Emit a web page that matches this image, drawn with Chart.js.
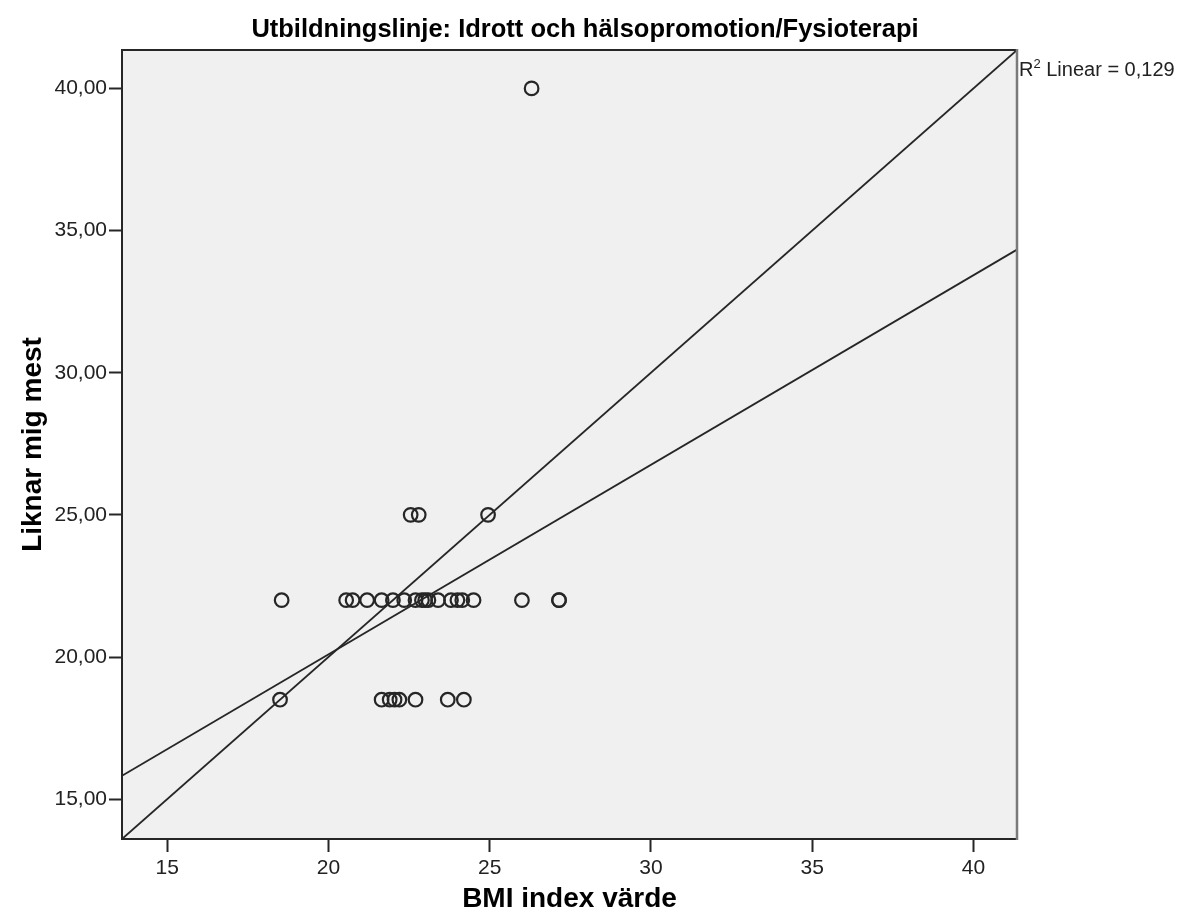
<!DOCTYPE html>
<html>
<head>
<meta charset="utf-8">
<script src="https://cdn.jsdelivr.net/npm/chart.js@4.4.1/dist/chart.umd.min.js"></script>
<style>
  html, body { margin: 0; padding: 0; background: #fff; }
</style>
</head>
<body>
<canvas id="scatterChart" width="1184" height="922"></canvas>
<script>
const chartTitle = "Utbildningslinje: Idrott och hälsopromotion/Fysioterapi";
const xAxisTitle = "BMI index värde";
const yAxisTitle = "Liknar mig mest";

// one entry per respondent: BMI and score
const bmiValues = [
  26.3,
  22.55, 22.8, 24.95,
  18.55, 20.55, 20.75, 21.2, 21.65, 22.0, 22.35, 22.7, 22.9, 23.0,
  23.1, 23.4, 23.8, 24.0, 24.15, 24.5, 26.0, 27.15, 27.15,
  18.5, 21.65, 21.9, 22.05, 22.2, 22.7, 23.7, 24.2,
];
const scoreValues = [
  40,
  25, 25, 25,
  22, 22, 22, 22, 22, 22, 22, 22, 22, 22,
  22, 22, 22, 22, 22, 22, 22, 22, 22,
  18.5, 18.5, 18.5, 18.5, 18.5, 18.5, 18.5, 18.5,
];

const xTicks = [15, 20, 25, 30, 35, 40];
const yTicks = [15, 20, 25, 30, 35, 40];
const axisMin = 13.6;
const axisMax = 41.35;

// linear fit line
const fitIntercept = 6.75;
const fitSlope = 0.667;
const rSquaredText = "0,129";

const ink = "#262626";
const fontFamily = "'Liberation Sans', Arial, sans-serif";

const points = bmiValues.map((x, i) => ({ x: x, y: scoreValues[i] }));
const fitLine = [axisMin, axisMax].map((x) => ({ x: x, y: fitIntercept + fitSlope * x }));
const refLine = [axisMin, axisMax].map((v) => ({ x: v, y: v }));

const frame = {
  id: "frame",
  beforeDraw(chart) {
    const { ctx, chartArea: a } = chart;
    ctx.save();
    ctx.fillStyle = "#f0f0f0";
    ctx.fillRect(a.left, a.top, a.right - a.left, a.bottom - a.top);
    ctx.restore();
  },
  afterDraw(chart) {
    const { ctx, chartArea: a } = chart;
    ctx.save();
    ctx.lineWidth = 2;
    ctx.strokeStyle = ink;
    ctx.beginPath();
    ctx.moveTo(a.right, a.top);
    ctx.lineTo(a.left, a.top);
    ctx.lineTo(a.left, a.bottom);
    ctx.lineTo(a.right, a.bottom);
    ctx.stroke();
    ctx.strokeStyle = "#7a7a7a";
    ctx.lineWidth = 2.5;
    ctx.beginPath();
    ctx.moveTo(a.right, a.top - 1);
    ctx.lineTo(a.right, a.bottom + 1);
    ctx.stroke();

    // title
    ctx.fillStyle = "#000";
    ctx.font = "bold 25.5px " + fontFamily;
    ctx.textAlign = "center";
    ctx.textBaseline = "alphabetic";
    ctx.fillText(chartTitle, 585, 37);

    // R² label next to the top right corner
    ctx.textAlign = "left";
    ctx.fillStyle = "#222";
    let x = a.right + 2;
    const y = 76;
    ctx.font = "20px " + fontFamily;
    ctx.fillText("R", x, y);
    x += ctx.measureText("R").width;
    ctx.font = "13px " + fontFamily;
    ctx.fillText("2", x, y - 8);
    x += ctx.measureText("2").width;
    ctx.font = "20px " + fontFamily;
    ctx.fillText(" Linear = " + rSquaredText, x, y);
    ctx.restore();
  },
};

new Chart(document.getElementById("scatterChart").getContext("2d"), {
  type: "scatter",
  data: {
    datasets: [
      {
        label: "Punkter",
        data: points,
        pointStyle: "circle",
        pointRadius: 6.8,
        pointBorderWidth: 2.2,
        pointBorderColor: ink,
        pointBackgroundColor: "rgba(0,0,0,0)",
        showLine: false,
      },
      {
        label: "Linear",
        data: fitLine,
        showLine: true,
        borderColor: ink,
        borderWidth: 1.8,
        pointRadius: 0,
      },
      {
        label: "y = x",
        data: refLine,
        showLine: true,
        borderColor: ink,
        borderWidth: 1.8,
        pointRadius: 0,
      },
    ],
  },
  options: {
    responsive: false,
    animation: false,
    devicePixelRatio: 1,
    layout: { padding: { top: 50, right: 167, bottom: 0, left: 0 } },
    plugins: {
      legend: { display: false },
      tooltip: { enabled: false },
    },
    scales: {
      x: {
        type: "linear",
        min: axisMin,
        max: axisMax,
        afterBuildTicks: (scale) => {
          scale.ticks = xTicks.map((v) => ({ value: v }));
        },
        afterFit: (scale) => {
          scale.height = 83;
        },
        grid: {
          drawOnChartArea: false,
          drawTicks: true,
          tickLength: 13,
          tickWidth: 2,
          tickColor: ink,
        },
        border: { display: false },
        ticks: {
          color: "#222",
          padding: 4,
          maxRotation: 0,
          font: { family: fontFamily, size: 21 },
          callback: (v) => String(v),
        },
        title: {
          display: true,
          text: xAxisTitle,
          color: "#000",
          font: { family: fontFamily, size: 28, weight: "bold" },
          padding: { top: 0, bottom: 6 },
        },
      },
      y: {
        type: "linear",
        min: axisMin,
        max: axisMax,
        afterBuildTicks: (scale) => {
          scale.ticks = yTicks.map((v) => ({ value: v }));
        },
        afterFit: (scale) => {
          scale.width = 122;
        },
        grid: {
          drawOnChartArea: false,
          drawTicks: true,
          tickLength: 13,
          tickWidth: 2,
          tickColor: ink,
        },
        border: { display: false },
        ticks: {
          color: "#222",
          padding: 2,
          font: { family: fontFamily, size: 21 },
          callback: (v) => v.toFixed(2).replace(".", ","),
        },
        title: {
          display: true,
          text: yAxisTitle,
          color: "#000",
          font: { family: fontFamily, size: 28, weight: "bold" },
          padding: { top: 16, bottom: 0 },
        },
      },
    },
  },
  plugins: [frame],
});
</script>
</body>
</html>
